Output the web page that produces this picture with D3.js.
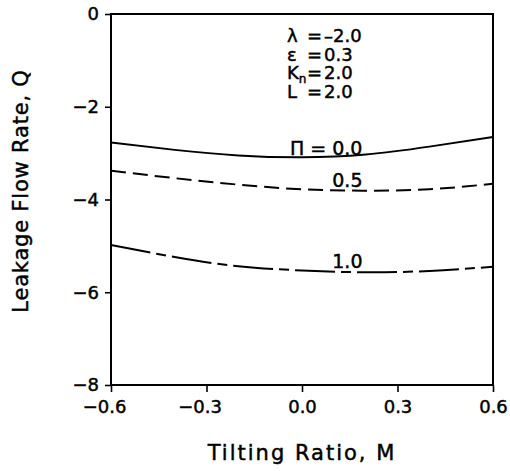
<!DOCTYPE html>
<html>
<head>
<meta charset="utf-8">
<script src="https://cdn.jsdelivr.net/npm/d3@7"></script>
<style>
  html, body { margin: 0; padding: 0; background: #fff; }
  svg { display: block; }
  text { font-family: "DejaVu Sans", sans-serif; fill: #000; stroke: #000; stroke-width: 0.45px; }
</style>
</head>
<body>
<svg id="chart" width="510" height="471"></svg>
<script>
// Tilting ratio M (x) and leakage flow rate Q (y) for three values of Π
const tiltRatio = [-0.6, -0.4, -0.2, 0.0, 0.2, 0.4, 0.6];
const flowPi00 = [-2.77, -2.93, -3.05, -3.09, -3.03, -2.86, -2.65];
const flowPi05 = [-3.38, -3.54, -3.68, -3.78, -3.81, -3.78, -3.66];
const flowPi10 = [-4.98, -5.24, -5.44, -5.53, -5.57, -5.54, -5.45];

const xTicks = [-0.6, -0.3, 0.0, 0.3, 0.6];
const yTicks = [0, -2, -4, -6, -8];

const seriesLabels = ["Π = 0.0", "0.5", "1.0"];
const paramLines = [
  { sym: "λ", val: "–2.0" },
  { sym: "ε", val: "0.3" },
  { sym: "K", sub: "n", val: "2.0" },
  { sym: "L", val: "2.0" }
];

const svg = d3.select("#chart");
const margin = { left: 111, top: 14, right: 17, bottom: 86 };
const W = 510, H = 471;

const x = d3.scaleLinear().domain([-0.6, 0.6]).range([margin.left, W - margin.right]);
const y = d3.scaleLinear().domain([-8, 0]).range([H - margin.bottom, margin.top]);

const fmtMinus = s => s.replace("-", "−");

// frame
svg.append("rect")
  .attr("x", x(-0.6)).attr("y", y(0))
  .attr("width", x(0.6) - x(-0.6)).attr("height", y(-8) - y(0))
  .attr("fill", "none").attr("stroke", "#000").attr("stroke-width", 2);

// x axis
const xAxis = svg.append("g")
  .attr("transform", `translate(0,${y(-8)})`)
  .call(d3.axisBottom(x).tickValues(xTicks).tickSize(7).tickPadding(8)
    .tickFormat(d => fmtMinus(d3.format(".1f")(d))));
xAxis.select(".domain").remove();
xAxis.selectAll(".tick line").attr("stroke", "#000").attr("stroke-width", 1.6);
xAxis.selectAll(".tick text")
  .style("font-size", "18px")
  .attr("dx", d => d < 0 ? -7 : 0);

// y axis
const yAxis = svg.append("g")
  .attr("transform", `translate(${x(-0.6)},0)`)
  .call(d3.axisLeft(y).tickValues(yTicks).tickSize(6).tickPadding(6)
    .tickFormat(d => fmtMinus(String(d))));
yAxis.select(".domain").remove();
yAxis.selectAll(".tick line").attr("stroke", "#000").attr("stroke-width", 1.6);
yAxis.selectAll(".tick text").style("font-size", "18px");

// axis titles
svg.append("text")
  .attr("x", (x(-0.6) + x(0.6)) / 2).attr("y", 460)
  .attr("text-anchor", "middle")
  .style("font-size", "21px").style("letter-spacing", "2px")
  .text("Tilting Ratio, M");

svg.append("text")
  .attr("transform", "translate(28,191) rotate(-90)")
  .attr("text-anchor", "middle")
  .style("font-size", "21px").style("letter-spacing", "0.8px")
  .text("Leakage Flow Rate, Q");

// curves
const line = d3.line()
  .x((d, i) => x(tiltRatio[i]))
  .y(d => y(d))
  .curve(d3.curveNatural);

const series = [
  { values: flowPi00, dash: null },
  { values: flowPi05, dash: "15,7" },
  { values: flowPi10, dash: "40,6,10,6" }
];

svg.selectAll("path.curve")
  .data(series)
  .join("path")
  .attr("class", "curve")
  .attr("d", d => line(d.values))
  .attr("fill", "none")
  .attr("stroke", "#000")
  .attr("stroke-width", 2)
  .attr("stroke-dasharray", d => d.dash);

// curve labels, right-aligned at M = 0.19 and resting on their curves
const labelEndM = 0.19;
const labelAnchorM = [0.0, 0.2, 0.2];
svg.selectAll("text.curve-label")
  .data(seriesLabels)
  .join("text")
  .attr("class", "curve-label")
  .attr("x", x(labelEndM))
  .attr("y", (d, i) => y(series[i].values[tiltRatio.indexOf(labelAnchorM[i])]) - (i === 0 ? 2 : 4))
  .attr("text-anchor", "end")
  .style("font-size", "19px")
  .text(d => d);

// parameter block
const params = svg.append("g").attr("transform", "translate(287,42)");
paramLines.forEach((p, i) => {
  const t = params.append("text")
    .attr("y", i * 18.5)
    .style("font-size", "18px");
  t.append("tspan").text(p.sym);
  if (p.sub) {
    t.append("tspan").attr("dy", 4).style("font-size", "12px").text(p.sub);
  }
  t.append("tspan").attr("x", 20).attr("dy", p.sub ? -4 : 0).text("=");
  t.append("tspan").attr("x", 37).text(p.val);
});
</script>
</body>
</html>
